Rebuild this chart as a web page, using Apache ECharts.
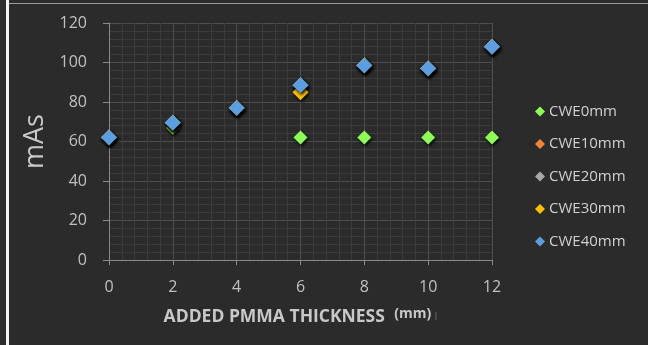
<!DOCTYPE html>
<html>
<head>
<meta charset="utf-8">
<script src="https://cdn.jsdelivr.net/npm/echarts@6/dist/echarts.min.js"></script>
<style>
  html, body { margin: 0; padding: 0; background: #2b2b2b; }
  #chart { width: 648px; height: 345px; }
</style>
</head>
<body>
<div id="chart"></div>
<script>
// Added PMMA thickness (mm) on the x axis
const thickness = [0, 2, 4, 6, 8, 10, 12];
// Tube current-time product (mAs) per chest-wall-equivalent thickness
const cwe0 = [62, 67, 77, 62, 62, 62, 62];
const cwe10 = [62, 69.5, 77, 88.5, 98.5, 97, 108];
const cwe20 = [62, 69.5, 77, 88.5, 98.5, 97, 108];
const cwe30 = [62, 69.5, 77, 85, 98.5, 97, 108];
const cwe40 = [62, 69.5, 77, 88.5, 98.5, 97, 108];

const seriesNames = ['CWE0mm', 'CWE10mm', 'CWE20mm', 'CWE30mm', 'CWE40mm'];
const seriesData = [cwe0, cwe10, cwe20, cwe30, cwe40];
const colors = ['#8cff55', '#f5822f', '#a8a8a8', '#ffc000', '#5a9fe2'];
const sizes = [14, 16, 16, 16, 16];

const font = '"Open Sans", "Noto Sans", sans-serif';

const chart = echarts.init(document.getElementById('chart'), null, { renderer: 'canvas' });

const series = seriesNames.map((name, i) => ({
  name: name,
  type: 'scatter',
  symbol: 'diamond',
  symbolSize: sizes[i],
  data: thickness.map((x, j) => [x, seriesData[i][j]]),
  itemStyle: {
    color: colors[i],
    opacity: 1,
    shadowBlur: 3,
    shadowOffsetX: 1,
    shadowOffsetY: 2,
    shadowColor: 'rgba(0,0,0,0.9)'
  },
  emphasis: { disabled: true },
  z: 2 + i
}));

chart.setOption({
  backgroundColor: '#2b2b2b',
  animation: false,
  color: colors,
  grid: { left: 109, right: 156, top: 23, bottom: 85 },
  legend: {
    orient: 'vertical',
    left: 530,
    top: 99,
    itemGap: 17.5,
    itemWidth: 10,
    itemHeight: 10,
    icon: 'diamond',
    textStyle: { color: '#d0d0d0', fontSize: 15, fontFamily: font, padding: [0, 0, 0, -1] },
    data: seriesNames
  },
  xAxis: {
    type: 'value',
    min: 0, max: 12, interval: 2,
    name: '{t|ADDED PMMA THICKNESS}{s|} {u|(mm)} {b|ǀ}',
    nameLocation: 'middle',
    nameGap: 47,
    nameTextStyle: {
      rich: {
        t: { color: '#c8c8c8', fontSize: 17.5, fontWeight: 'bold', fontFamily: font },
        s: { width: 6 },
        u: { color: '#c8c8c8', fontSize: 14, fontWeight: 'bold', fontFamily: font, padding: [0, 0, 6, 0] },
        b: { color: '#6a6a6a', fontSize: 11 }
      }
    },
    axisLine: { show: true, lineStyle: { color: '#8a8a8a', width: 1 } },
    axisTick: { show: true, length: 5, lineStyle: { color: '#8a8a8a' } },
    axisLabel: { color: '#c0c0c0', fontSize: 16, margin: 19, fontFamily: font },
    splitLine: { show: true, lineStyle: { color: '#4e4e4e', width: 1 } },
    minorTick: { show: false, splitNumber: 5 },
    minorSplitLine: { show: true, lineStyle: { color: '#3b3b3b', width: 1 } }
  },
  yAxis: {
    type: 'value',
    min: 0, max: 120, interval: 20,
    name: 'mAs',
    nameLocation: 'middle',
    nameGap: 58,
    nameRotate: 90,
    nameTextStyle: { color: '#c8c8c8', fontSize: 27, fontFamily: font },
    axisLine: { show: true, lineStyle: { color: '#8a8a8a', width: 1 } },
    axisTick: { show: true, length: 6, lineStyle: { color: '#8a8a8a' } },
    axisLabel: { color: '#c0c0c0', fontSize: 16, margin: 22, fontFamily: font },
    splitLine: { show: true, lineStyle: { color: '#4e4e4e', width: 1 } },
    minorTick: { show: false, splitNumber: 5 },
    minorSplitLine: { show: true, lineStyle: { color: '#3b3b3b', width: 1 } }
  },
  graphic: [
    // side strip and frame lines around the panel
    { type: 'rect', left: 0, top: 0, shape: { width: 6, height: 345 }, style: { fill: '#2d2d2d' }, silent: true },
    { type: 'rect', left: 6, top: 0, shape: { width: 3, height: 345 }, style: { fill: '#f4f4f4' }, silent: true },
    { type: 'rect', left: 9, top: 3, shape: { width: 639, height: 1 }, style: { fill: '#9a9a9a' }, silent: true }
  ],
  series: series
});
</script>
</body>
</html>
